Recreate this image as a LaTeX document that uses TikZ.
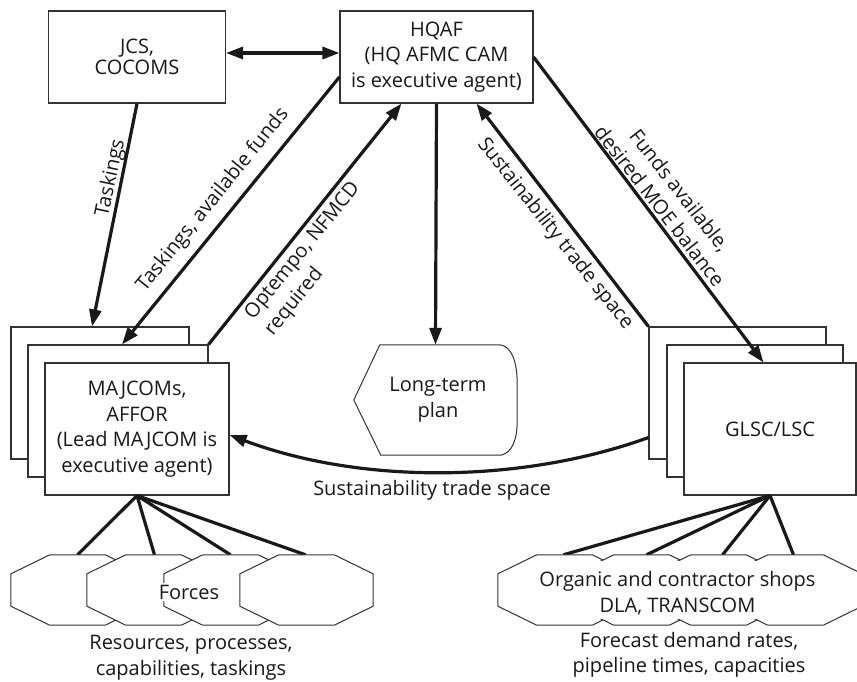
\documentclass[tikz,border=0pt]{standalone}
\usepackage{fontspec}
\setmainfont{Open Sans}
\usetikzlibrary{arrows.meta,calc}
\begin{document}
\begin{tikzpicture}[x=1pt,y=-1pt,
  txt/.style={font=\fontsize{20}{25.5}\selectfont,text=black!90,align=center,inner sep=0pt},
  box/.style={txt,draw=black!80,line width=1.1pt,fill=white},
  ghost/.style={inner sep=0pt},
  conn/.style={line width=3.2pt,black!90},
  arr/.style={conn,-{Triangle[length=17pt,width=12pt]}},
  dbl/.style={conn,{Triangle[length=17pt,width=12pt]}-{Triangle[length=17pt,width=12pt]}},
  octline/.style={draw=black!80,line width=1pt,fill=white}]
\clip (0,0) rectangle (857,682);
\fill[white] (0,0) rectangle (857,682);

% top boxes
\node[box,minimum width=177pt,minimum height=92pt,font=\fontsize{20}{21}\selectfont] (jcs) at (137,57) {JCS,\\COCOMS};
\node[box,minimum width=193pt,minimum height=92pt,inner xsep=1pt] (hqaf) at (436.5,57) {HQAF\\(HQ AFMC CAM\\is executive agent)};

% left stack
\node[box,minimum width=178pt,minimum height=132pt] (maj3) at (100,393) {};
\node[box,minimum width=180pt,minimum height=132pt] (maj2) at (118,411) {};
\node[box,minimum width=184pt,minimum height=132pt] (maj) at (137,429) {MAJCOMs,\\AFFOR\\(Lead MAJCOM is\\executive agent)};

% right stack
\node[box,minimum width=177pt,minimum height=132pt] (glsc3) at (737.5,393) {};
\node[box,minimum width=176pt,minimum height=132pt] (glsc2) at (755,411) {};
\node[box,minimum width=172pt,minimum height=132pt] (glsc) at (770,429) {GLSC/LSC};

% long-term plan
\node[ghost,minimum width=163pt,minimum height=110pt] (plan) at (435.5,400) {};
\draw[black!80,line width=1pt,fill=white]
  ($(plan.north west)+(26,0)$) -- ($(plan.north east)+(-17,0)$)
  .. controls ($(plan.north east)+(-6,2)$) and ($(plan.north east)+(0,15)$) .. ($(plan.north east)+(0,40)$)
  -- ($(plan.south east)+(0,-35)$)
  .. controls ($(plan.south east)+(0,-15)$) and ($(plan.south east)+(-5,-3)$) .. ($(plan.south east)+(-16,0)$)
  -- ($(plan.south west)+(27,0)$) -- (plan.west) -- cycle;
\node[txt] (plantext) at (438,400) {Long-term\\plan};

% connectors
\draw[dbl] ($(jcs.east)+(0,-4)$) -- ($(hqaf.west)+(0,-4)$);
\draw[arr] (jcs.south) -- ($(maj3.north)+(-8,0)$);
\draw[arr] ($(hqaf.west)+(0,20)$) -- ($(maj2.north)+(4,0)$);
\draw[arr] (maj2.north east) -- ($(hqaf.south)+(-35,0)$);
\draw[arr] (hqaf.south) -- (plan.north);
\draw[arr] (glsc3.north west) -- ($(hqaf.south)+(40,0)$);
\draw[arr] (hqaf.east) -- ($(glsc.north west)+(80,0)$);
\draw[arr] ($(glsc3.south west)+(0,-22)$) .. controls (520,484) and (360,484) .. ($(maj.east)+(0,6)$);

% labels
\node[txt,rotate=78] (l-task) at (111,178) {Taskings};
\node[txt,rotate=51] (l-taf) at (213,200) {Taskings, available funds};
\node[txt,rotate=51,align=left] (l-opt) at (313,259) {Optempo, NFMCD\\required};
\node[txt,rotate=-51.5] (l-sus) at (555,234) {Sustainability trade space};
\node[txt,rotate=-52] (l-fund) at (670,198) {Funds available,\\desired MOE balance};
\node[txt] (l-sus2) at (432,490) {Sustainability trade space};

% octagon holders
\foreach \n/\x in {l1/77.5,l2/153.5,l3/230.5,l4/306.5,r1/564.5,r2/641.5,r3/718.5,r4/795.5}
  \node[ghost,minimum width=133pt,minimum height=70pt] (\n) at (\x,590) {};

% lines to octagons
\foreach \n/\d in {l1/0,l2/1,l3/0,l4/-1}
  \draw[conn] (maj.south) -- ($(\n.north)+(\d,0)$);
\foreach \n/\d in {r1/-1,r2/5,r3/4,r4/-2}
  \draw[conn] (glsc.south) -- ($(\n.north)+(\d,0)$);

% octagons
\foreach \n in {l1,l2,l3,l4,r1,r2,r3,r4}
  \draw[octline] ($(\n.north west)+(0,19)$) -- ($(\n.north west)+(39,0)$)
    -- ($(\n.north east)+(-39,0)$) -- ($(\n.north east)+(0,19)$)
    -- ($(\n.south east)+(0,-19)$) -- ($(\n.south east)+(-39,0)$)
    -- ($(\n.south west)+(39,0)$) -- ($(\n.south west)+(0,-19)$) -- cycle;

\node[txt,fill=white,inner xsep=1pt,inner ysep=2pt] (forces) at (189,592) {Forces};
\fill[white] (540,561) rectangle (826,619);
\node[txt] (shops) at (677.5,593) {Organic and contractor shops\\DLA, TRANSCOM};

\node[txt] (capl) at (191,658) {Resources, processes,\\capabilities, taskings};
\node[txt] (capr) at (689,655) {Forecast demand rates,\\pipeline times, capacities};
\end{tikzpicture}
\end{document}
